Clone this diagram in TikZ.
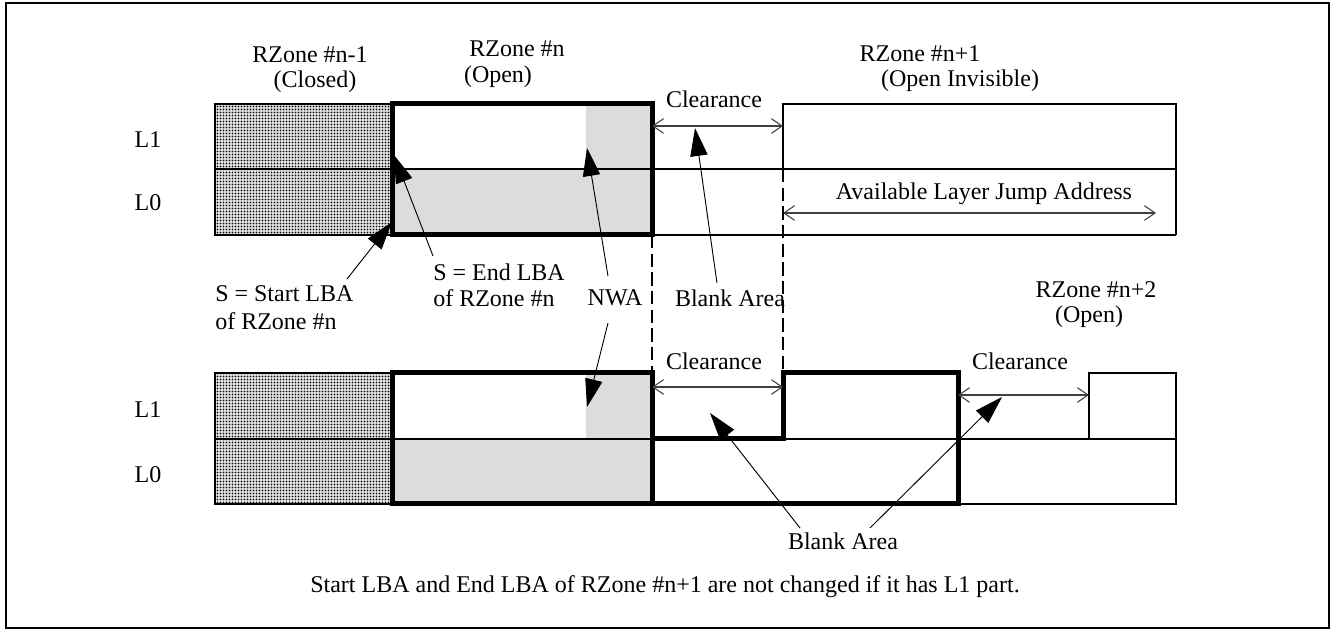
\documentclass[tikz,border=0pt]{standalone}
\usepackage{fontspec}
\setmainfont{Liberation Serif}
\usetikzlibrary{arrows.meta,patterns}
\pgfdeclarepatternformonly{densedots}{\pgfpointorigin}{\pgfqpoint{2.5pt}{2.5pt}}{\pgfqpoint{2.5pt}{2.5pt}}{%
  \pgfpathrectangle{\pgfqpoint{0.45pt}{0.45pt}}{\pgfqpoint{1.6pt}{1.6pt}}\pgfusepath{fill}}
\definecolor{zonegray}{RGB}{220,220,220}
\begin{document}
\begin{tikzpicture}[x=0.75pt,y=-0.75pt,
  lbl/.style={font=\fontsize{18}{21}\selectfont,inner sep=0pt},
  thickln/.style={line width=3.75pt},
  medln/.style={line width=2pt},
  thinln/.style={line width=1.6pt},
  dimarrow/.style={line width=0.8pt,draw=black!75,{Straight Barb[length=8pt,width=11pt]}-{Straight Barb[length=8pt,width=11pt]}},
  pointer/.style={line width=0.7pt,-{Triangle[length=21pt,width=13pt]}},
  dashln/.style={line width=0.8pt,dash pattern=on 10pt off 4pt},
  closedfill/.style={pattern=densedots},
  grayfill/.style={fill=zonegray}]
\useasboundingbox (0,0) rectangle (1332,630);
\draw[line width=0.9pt] (6,3) rectangle (1329,628);

% ---------- top diagram ----------
\fill[closedfill] (215,104) rectangle (392,235);
\fill[grayfill] (392,169) rectangle (652,235);
\fill[grayfill] (586,104) rectangle (652,169);
\draw[thinln] (215,104) rectangle (392,235);
\draw[thinln] (215,169) -- (652,169);
\draw[thinln] (652,169) -- (783,169);
\draw[thinln] (652,235) -- (1176,235);
\draw[medln] (783,169) -- (783,104) -- (1176,104) -- (1176,235);
\draw[medln] (783,169) -- (1176,169);
\draw[thickln] (392,104) rectangle (652,235);
\draw[dashln] (652,235) -- (652,373);
\draw[dashln] (783,169) -- (783,373);

\coordinate (c1l) at (652,126);
\coordinate (c1r) at (783,126);
\draw[dimarrow] (c1l) -- (c1r);
\coordinate (ajl) at (783,213);
\coordinate (ajr) at (1156,213);
\draw[dimarrow] (ajl) -- (ajr);

\node[lbl] (l1a) at (148,140) {L1};
\node[lbl] (l0a) at (148,203) {L0};
\node[lbl] (zprev) at (310,55) {RZone \#n-1};
\node[lbl] (zprevs) at (315,82) {(Closed)};
\node[lbl] (zcur) at (517,49) {RZone \#n};
\node[lbl] (zcurs) at (498,77) {(Open)};
\node[lbl] (clr1) at (714,99) {Clearance};
\node[lbl] (znext) at (920,54) {RZone \#n+1};
\node[lbl] (znexts) at (960,81) {(Open Invisible)};
\node[lbl] (ajump) at (984,194) {Available Layer Jump Address};

\node[lbl,anchor=west] (sstart1) at (215,294) {S = Start LBA};
\node[lbl,anchor=west] (sstart2) at (215,321) {of RZone \#n};
\node[lbl,anchor=west] (send1) at (433,272) {S = End LBA};
\node[lbl,anchor=west] (send2) at (433,298) {of RZone \#n};
\node[lbl] (nwa) at (615,298) {NWA};
\node[lbl] (blank1) at (730,298) {Blank Area};
\node[lbl] (zn2) at (1096,290) {RZone \#n+2};
\node[lbl] (zn2s) at (1089,317) {(Open)};

\coordinate (tipstart) at (392,222);
\coordinate (tailstart) at (347,279);
\draw[pointer] (tailstart) -- (tipstart);
\coordinate (tipend) at (394,155);
\coordinate (tailend) at (433,256);
\draw[pointer] (tailend) -- (tipend);
\coordinate (tipnwa1) at (587,148);
\coordinate (tailnwa1) at (608,276);
\draw[pointer] (tailnwa1) -- (tipnwa1);
\coordinate (tipblank1) at (695,128);
\coordinate (tailblank1) at (717,283);
\draw[pointer] (tailblank1) -- (tipblank1);

% ---------- bottom diagram ----------
\fill[closedfill] (215,373) rectangle (392,504);
\fill[grayfill] (392,439) rectangle (652,504);
\fill[grayfill] (586,373) rectangle (652,439);
\draw[thinln] (215,373) rectangle (392,504);
\draw[thinln] (215,439) -- (652,439);
\draw[thinln] (783,439) -- (1176,439);
\draw[medln] (958,504) -- (1176,504) -- (1176,439);
\draw[medln] (1089,439) -- (1089,373) -- (1176,373) -- (1176,439);
\draw[thickln] (392,373) -- (652,373) -- (652,439) -- (783,439) -- (783,373) -- (958,373) -- (958,504) -- (392,504) -- cycle;
\draw[thickln] (652,439) -- (652,504);

\coordinate (c2l) at (652,387);
\coordinate (c2r) at (783,387);
\draw[dimarrow] (c2l) -- (c2r);
\coordinate (c3l) at (958,395);
\coordinate (c3r) at (1089,395);
\draw[dimarrow] (c3l) -- (c3r);

\node[lbl] (l1b) at (148,410) {L1};
\node[lbl] (l0b) at (148,475) {L0};
\node[lbl] (clr2) at (714,361) {Clearance};
\node[lbl] (clr3) at (1020,361) {Clearance};
\node[lbl] (blank2) at (843,541) {Blank Area};
\node[lbl] (caption) at (665,587) {Start LBA and End LBA of RZone \#n+1 are not changed if it has L1 part.};

\coordinate (tipnwa2) at (587,407);
\coordinate (tailnwa2) at (608,323);
\draw[pointer] (tailnwa2) -- (tipnwa2);
\coordinate (tipblank2) at (710,413);
\coordinate (tailblank2) at (800,528);
\draw[pointer] (tailblank2) -- (tipblank2);
\coordinate (tipblank3) at (1002,397);
\coordinate (tailblank3) at (870,528);
\draw[pointer] (tailblank3) -- (tipblank3);
\end{tikzpicture}
\end{document}
